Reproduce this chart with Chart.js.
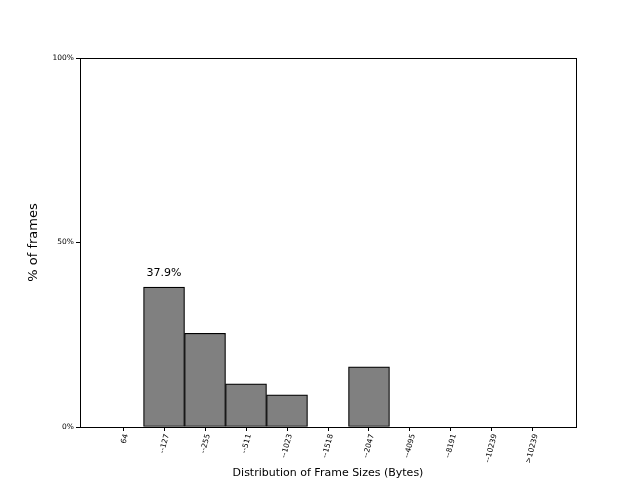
<!DOCTYPE html>
<html>
<head>
<meta charset="utf-8">
<script src="https://cdn.jsdelivr.net/npm/chart.js@4"></script>
<style>
  html, body { margin: 0; padding: 0; background: #fff; }
  #wrap { width: 640px; height: 480px; }
</style>
</head>
<body>
<div id="wrap"><canvas id="frameChart" width="640" height="480"></canvas></div>
<script>
var sizeLabels = ['64', '--127', '--255', '--511', '--1023', '--1518', '--2047', '--4095', '--8191', '--10239', '>10239'];
var framePercent = [0, 37.9, 25.4, 11.7, 8.7, 0, 16.3, 0, 0, 0, 0];
var yTicks = [0, 50, 100];

var points = sizeLabels.map(function(label, i) {
    return { x: i, y: framePercent[i] };
});

// box around the plot + label over the tallest bar
var framePlugin = {
    id: 'framePlugin',
    afterDraw: function(chart) {
        var ctx = chart.ctx;
        var a = chart.chartArea;
        ctx.save();
        ctx.strokeStyle = '#000';
        ctx.lineWidth = 1;
        ctx.strokeRect(Math.round(a.left) + 0.5, Math.round(a.top) + 0.5, Math.round(a.right - a.left), Math.round(a.bottom - a.top));

        var maxIdx = 0;
        for (var i = 1; i < framePercent.length; i++) {
            if (framePercent[i] > framePercent[maxIdx]) maxIdx = i;
        }
        var xs = chart.scales.x, ys = chart.scales.y;
        ctx.fillStyle = '#000';
        ctx.font = '11px "DejaVu Sans"';
        ctx.textAlign = 'center';
        ctx.textBaseline = 'bottom';
        ctx.fillText(framePercent[maxIdx].toFixed(1) + '%', xs.getPixelForValue(maxIdx), ys.getPixelForValue(framePercent[maxIdx]) - 9);
        ctx.restore();
    }
};

var ctx = document.getElementById('frameChart').getContext('2d');
var frameChart = new Chart(ctx, {
    type: 'bar',
    data: {
        datasets: [{
            data: points,
            backgroundColor: '#808080',
            borderColor: '#000',
            borderWidth: 1.2,
            borderSkipped: false,
            barPercentage: 1,
            categoryPercentage: 1
        }]
    },
    options: {
        responsive: false,
        animation: false,
        layout: { padding: { top: 58, right: 64, left: 26, bottom: 0 } },
        plugins: {
            legend: { display: false },
            tooltip: { enabled: false }
        },
        scales: {
            x: {
                type: 'linear',
                offset: false,
                min: -1.05,
                max: 11.05,
                afterBuildTicks: function(axis) {
                    axis.ticks = sizeLabels.map(function(_, i) { return { value: i }; });
                },
                afterFit: function(axis) { axis.height = 53; },
                grid: { display: true, offset: false, drawOnChartArea: false, drawTicks: true, tickLength: 4, color: '#000' },
                border: { display: false },
                ticks: {
                    autoSkip: false,
                    maxRotation: 75,
                    minRotation: 75,
                    labelOffset: 3,
                    padding: 2,
                    color: '#000',
                    font: { family: 'DejaVu Sans', size: 7.5 },
                    callback: function(value) { return sizeLabels[value]; }
                },
                title: {
                    display: true,
                    text: 'Distribution of Frame Sizes (Bytes)',
                    color: '#000',
                    font: { family: 'DejaVu Sans', size: 11 },
                    padding: { top: 0, bottom: 0 }
                }
            },
            y: {
                min: 0,
                max: 100,
                afterBuildTicks: function(axis) {
                    axis.ticks = yTicks.map(function(v) { return { value: v }; });
                },
                afterFit: function(axis) { axis.width = 54; },
                grid: { display: true, drawOnChartArea: false, drawTicks: true, tickLength: 4, color: '#000' },
                border: { display: false },
                ticks: {
                    color: '#000',
                    padding: 2,
                    font: { family: 'DejaVu Sans', size: 7.5 },
                    callback: function(value) { return value + '%'; }
                },
                title: {
                    display: true,
                    text: '% of frames',
                    color: '#000',
                    font: { family: 'DejaVu Sans', size: 13 },
                    padding: { top: 0, bottom: 0 }
                }
            }
        }
    },
    plugins: [framePlugin]
});
</script>
</body>
</html>
